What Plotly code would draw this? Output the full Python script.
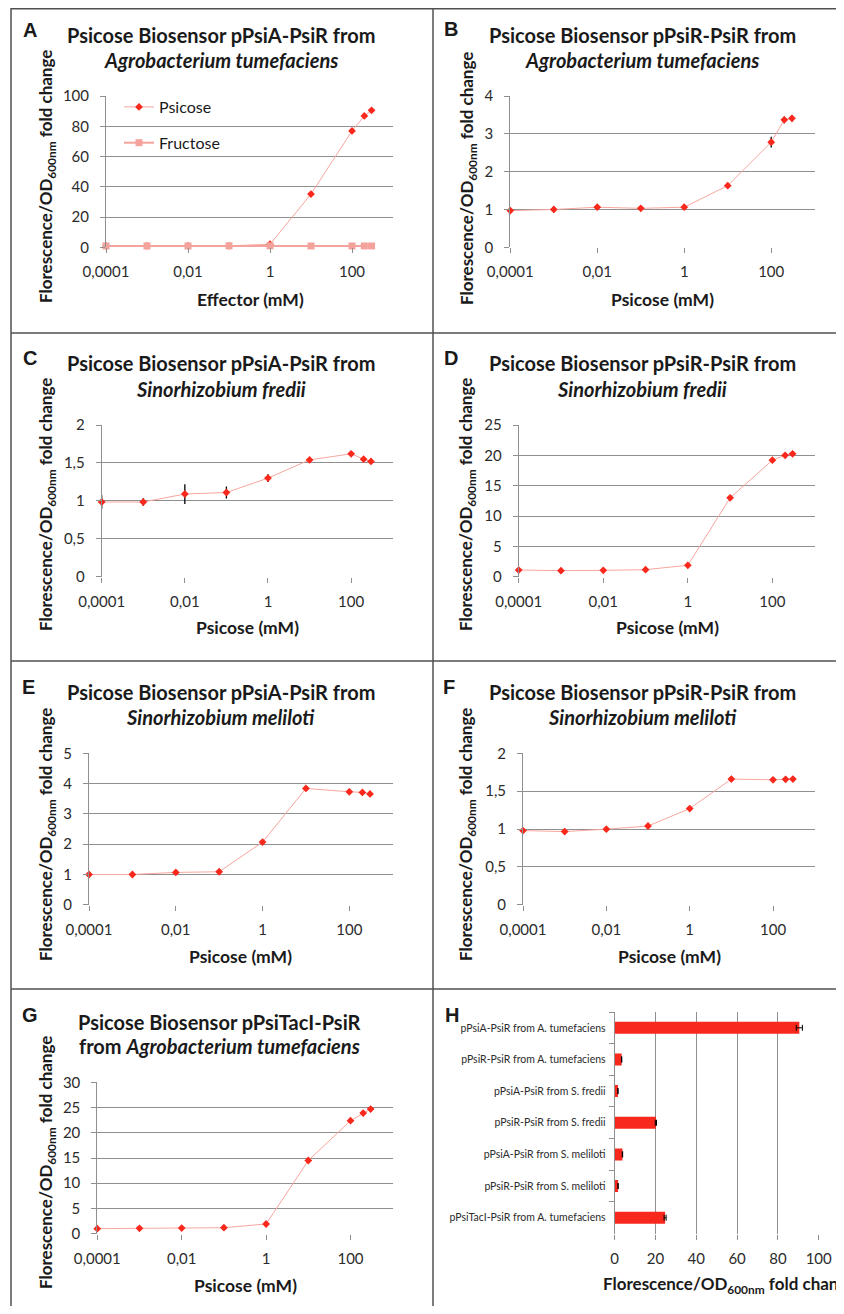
import plotly.graph_objects as go

# The page adds an 8px body margin; the figure is shrunk by 16px so that the
# page is exactly 844x1314 and positions below are given in page pixels.
PAGE_W, PAGE_H = 844, 1314
OFF = 8
W, H = PAGE_W - 2 * OFF, PAGE_H - 2 * OFF

# ---------------- data ----------------
conc = [0.0001, 0.001, 0.01, 0.1, 1, 10, 100, 200, 300]
x_tickvals = [0.0001, 0.01, 1, 100]
x_ticktext = ["0,0001", "0,01", "1", "100"]

A_psicose = [0.9, 1.0, 1.0, 1.0, 2.0, 35.2, 76.9, 86.8, 90.5]
A_psicose_err = [0.2, 0.2, 0.2, 0.2, 0.3, 0.8, 1.0, 1.0, 1.0]
A_fructose = [0.9, 0.9, 0.9, 1.0, 1.0, 0.9, 0.9, 0.9, 0.9]

B_psicose = [0.97, 1.0, 1.06, 1.03, 1.06, 1.63, 2.78, 3.37, 3.41]
B_err = [0.04, 0.08, 0.03, 0.03, 0.03, 0.04, 0.14, 0.09, 0.09]

C_psicose = [0.985, 0.985, 1.09, 1.11, 1.30, 1.54, 1.62, 1.55, 1.52]
C_err = [0.09, 0.05, 0.13, 0.08, 0.05, 0.02, 0.02, 0.02, 0.02]

D_psicose = [1.1, 1.0, 1.05, 1.16, 1.88, 13.0, 19.2, 20.0, 20.25]
D_err = [0.1, 0.1, 0.1, 0.1, 0.15, 0.2, 0.3, 0.25, 0.3]

E_psicose = [1.0, 1.0, 1.07, 1.09, 2.07, 3.84, 3.73, 3.71, 3.66]
E_err = [0.02, 0.03, 0.03, 0.03, 0.04, 0.04, 0.04, 0.04, 0.04]

F_psicose = [0.98, 0.967, 0.998, 1.04, 1.27, 1.66, 1.65, 1.657, 1.66]
F_err = [0.03, 0.04, 0.03, 0.02, 0.02, 0.02, 0.02, 0.04, 0.02]

G_psicose = [1.0, 1.06, 1.12, 1.19, 1.92, 14.5, 22.4, 23.9, 24.7]
G_err = [0.1, 0.1, 0.1, 0.1, 0.15, 0.4, 0.5, 0.4, 0.4]

H_labels = ["pPsiA-PsiR from A. tumefaciens", "pPsiR-PsiR from A. tumefaciens",
            "pPsiA-PsiR from S. fredii", "pPsiR-PsiR from S. fredii",
            "pPsiA-PsiR from S. meliloti", "pPsiR-PsiR from S. meliloti",
            "pPsiTacI-PsiR from A. tumefaciens"]
H_values = [90.5, 3.4, 1.6, 20.2, 3.8, 1.66, 24.7]
H_err = [1.5, 0.1, 0.05, 0.3, 0.1, 0.05, 0.5]

# ---------------- styles ----------------
FONT = "Lato"
RED = "#F8281C"
LINE_RED = "#F6A69E"
FRUCT = "#F4A39C"
GRID = "#8f8f8f"
TXT = "#1a1a1a"
TICKTXT = "#2b2b2b"

def px(x):
    return (x - OFF) / W

def py(y):
    return 1 - (y - OFF) / H

panels = [
    dict(key="A", y=A_psicose, e=A_psicose_err, yr=[0, 100], dt=20, xd=(106, 393), yd=(96, 247.3)),
    dict(key="B", y=B_psicose, e=B_err, yr=[0, 4], dt=1, xd=(510.3, 814.7), yd=(96, 247.3)),
    dict(key="C", y=C_psicose, e=C_err, yr=[0, 2], dt=0.5, xd=(101.7, 392.7), yd=(425, 576.7)),
    dict(key="D", y=D_psicose, e=D_err, yr=[0, 25], dt=5, xd=(518.7, 814.7), yd=(425, 576.7)),
    dict(key="E", y=E_psicose, e=E_err, yr=[0, 5], dt=1, xd=(89, 392.7), yd=(753.3, 904.8)),
    dict(key="F", y=F_psicose, e=F_err, yr=[0, 2], dt=0.5, xd=(523, 814.7), yd=(753.3, 904.8)),
    dict(key="G", y=G_psicose, e=G_err, yr=[0, 30], dt=5, xd=(97.3, 392.7), yd=(1082.3, 1233.7)),
]

fig = go.Figure()
layout = dict(
    width=W, height=H, margin=dict(l=0, r=0, t=0, b=0, pad=0, autoexpand=False),
    paper_bgcolor="white", plot_bgcolor="white",
    separators=", ",
    font=dict(family=FONT, color=TXT),
    showlegend=True,
)

for i, p in enumerate(panels):
    n = i + 1
    xa = "x" if n == 1 else f"x{n}"
    ya = "y" if n == 1 else f"y{n}"
    xk = "xaxis" if n == 1 else f"xaxis{n}"
    yk = "yaxis" if n == 1 else f"yaxis{n}"
    fig.add_trace(go.Scatter(
        x=conc, y=p["y"], xaxis=xa, yaxis=ya, mode="lines+markers",
        name="Psicose", legendgroup="p", showlegend=(n == 1),
        line=dict(color=LINE_RED, width=1),
        marker=dict(symbol="diamond", size=6, color=RED),
        error_y=dict(type="data", array=p["e"], color="black", thickness=1.3, width=0),
        cliponaxis=False,
    ))
    if n == 1:
        fig.add_trace(go.Scatter(
            x=conc, y=A_fructose, xaxis=xa, yaxis=ya, mode="lines+markers",
            name="Fructose", legendgroup="f",
            line=dict(color=FRUCT, width=2),
            marker=dict(symbol="square", size=7, color=FRUCT),
            cliponaxis=False,
        ))
    layout[xk] = dict(
        type="log", range=[-4, 3], domain=[px(p["xd"][0]), px(p["xd"][1])],
        anchor=ya, tickvals=x_tickvals, ticktext=x_ticktext, automargin=False,
        showgrid=False, showline=False, zeroline=False,
        ticks="outside", ticklen=5, tickcolor=GRID, tickwidth=1,
        tickfont=dict(family=FONT, size=15, color=TICKTXT),
        ticklabelstandoff=6,
    )
    layout[yk] = dict(
        range=p["yr"], dtick=p["dt"], domain=[py(p["yd"][1]), py(p["yd"][0])],
        anchor=xa, showgrid=True, gridcolor=GRID, gridwidth=1, automargin=False,
        showline=True, linecolor=GRID, linewidth=1, zeroline=False,
        ticks="outside", ticklen=5, tickcolor=GRID,
        tickfont=dict(family=FONT, size=15, color=TICKTXT),
        ticklabelstandoff=8,
    )

# Panel H: horizontal bars
fig.add_trace(go.Bar(
    y=H_labels, x=H_values, orientation="h", xaxis="x8", yaxis="y8",
    marker=dict(color=RED, line=dict(width=0)), showlegend=False,
    error_x=dict(type="data", array=H_err, color="black", thickness=1, width=3),
))
layout["xaxis8"] = dict(
    range=[0, 100], dtick=20, domain=[px(614.7), px(818.7)], anchor="y8", automargin=False,
    showgrid=True, gridcolor=GRID, gridwidth=1, showline=False, zeroline=False,
    ticks="outside", ticklen=5, tickcolor=GRID,
    tickfont=dict(family=FONT, size=15, color=TICKTXT), ticklabelstandoff=6,
)
layout["yaxis8"] = dict(
    domain=[py(1233.5), py(1012)], anchor="x8", autorange="reversed", automargin=False,
    showline=True, linecolor=GRID, linewidth=1, showgrid=False,
    ticks="outside", ticklen=5, tickcolor=GRID, tickson="boundaries",
    tickfont=dict(family=FONT, size=10.5, color=TICKTXT), ticklabelstandoff=6,
)
layout["bargap"] = 0.62

layout["legend"] = dict(
    x=px(119), y=py(90), xanchor="left", yanchor="top",
    font=dict(family=FONT, size=16, color=TXT),
    bgcolor="rgba(0,0,0,0)", traceorder="grouped", tracegroupgap=12,
    itemwidth=30,
)

# ---------------- text ----------------
ann = []
def text(x, y, s, size, angle=0, family=FONT, color=TXT):
    ann.append(dict(x=px(x), y=py(y), xref="paper", yref="paper", text=s,
                    showarrow=False, textangle=angle, xanchor="center", yanchor="middle",
                    font=dict(family=family, size=size, color=color)))

titles = [
    ("A", 30, 30, 221, 35, 60, "Psicose Biosensor pPsiA-PsiR from", "<i>Agrobacterium tumefaciens</i>"),
    ("B", 451, 29, 642, 35, 60, "Psicose Biosensor pPsiR-PsiR from", "<i>Agrobacterium tumefaciens</i>"),
    ("C", 30, 358, 221, 363, 389, "Psicose Biosensor pPsiA-PsiR from", "<i>Sinorhizobium fredii</i>"),
    ("D", 451, 358, 642, 363, 389, "Psicose Biosensor pPsiR-PsiR from", "<i>Sinorhizobium fredii</i>"),
    ("E", 28, 687, 221, 692, 717, "Psicose Biosensor pPsiA-PsiR from", "<i>Sinorhizobium meliloti</i>"),
    ("F", 449, 687, 642, 692, 717, "Psicose Biosensor pPsiR-PsiR from", "<i>Sinorhizobium meliloti</i>"),
    ("G", 30, 1015, 219, 1022, 1046, "Psicose Biosensor pPsiTacI-PsiR", "from <i>Agrobacterium tumefaciens</i>"),
]
for letter, lx, ly, tx, t1, t2, l1, l2 in titles:
    text(lx, ly, f"<b>{letter}</b>", 20, family="Liberation Sans")
    text(tx, t1, f"<b>{l1}</b>", 20)
    text(tx, t2, f"<b>{l2}</b>", 20)
text(452, 1015, "<b>H</b>", 20, family="Liberation Sans")

YT = "<b>Florescence/OD<sub>600nm</sub> fold change</b>"
for (x, y) in [(47, 177), (468, 179), (47, 505), (467, 505), (47, 835), (467, 835), (47, 1163)]:
    text(x, y, YT, 17, angle=-90)

xtitles = [(250, 300, "Effector (mM)"), (662, 300, "Psicose (mM)"),
           (247, 628, "Psicose (mM)"), (667, 628, "Psicose (mM)"),
           (241, 956, "Psicose (mM)"), (669, 956, "Psicose (mM)"),
           (245, 1285, "Psicose (mM)")]
for x, y, s in xtitles:
    text(x, y, f"<b>{s}</b>", 17.5)
ann.append(dict(x=px(601), y=py(1285), xref="paper", yref="paper", text=YT,
                showarrow=False, xanchor="left", yanchor="middle",
                font=dict(family=FONT, size=17, color=TXT)))
layout["annotations"] = ann

# ---------------- panel borders ----------------
BC = "#505050"
shapes = []
for yy in [OFF + 0.8, 333, 661, 989]:
    shapes.append(dict(type="line", xref="paper", yref="paper", x0=px(11), x1=1,
                       y0=py(yy), y1=py(yy), line=dict(color=BC, width=1.5)))
for xx in [11, 433]:
    shapes.append(dict(type="line", xref="paper", yref="paper", x0=px(xx), x1=px(xx),
                       y0=py(OFF), y1=0, line=dict(color=BC, width=1.5)))
layout["shapes"] = shapes

fig.update_layout(**layout)
fig.write_html("out.html")
